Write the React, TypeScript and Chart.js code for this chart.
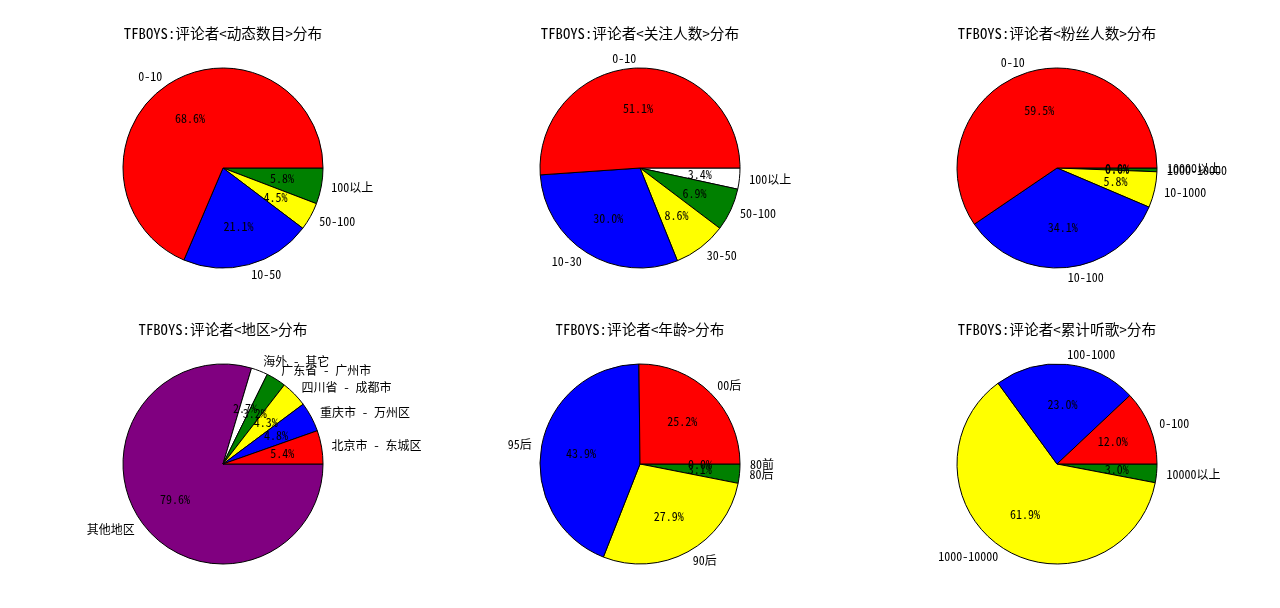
import React, { useEffect, useRef } from 'react';
import { Chart, PieController, ArcElement } from 'chart.js';

Chart.register(PieController, ArcElement);

// slice colours, in data order
const COLORS = ['#ff0000', '#0000ff', '#ffff00', '#008000', '#ffffff', '#800080'];

// shares in percent (matplotlib order: counter-clockwise from east)
const dongtaiLabels = ['0-10', '10-50', '50-100', '100以上'];
const dongtaiPct = [68.6, 21.1, 4.5, 5.8];

const guanzhuLabels = ['0-10', '10-30', '30-50', '50-100', '100以上'];
const guanzhuPct = [51.1, 30.0, 8.6, 6.9, 3.4];

const fensiLabels = ['0-10', '10-100', '10-1000', '1000-10000', '10000以上'];
const fensiPct = [59.5, 34.1, 5.8, 0.6, 0.0];

const diquLabels = ['北京市 - 东城区', '重庆市 - 万州区', '四川省 - 成都市', '广东省 - 广州市', '海外 - 其它', '其他地区'];
const diquPct = [5.4, 4.8, 4.3, 3.2, 2.7, 79.6];

const nianlingLabels = ['00后', '95后', '90后', '80后', '80前'];
const nianlingPct = [25.2, 43.9, 27.9, 3.1, 0.0];

const tinggeLabels = ['0-100', '100-1000', '1000-10000', '10000以上'];
const tinggePct = [12.0, 23.0, 61.9, 3.0];

const W = 418;
const H = 290;
const R = 100;
const FONT = '"Noto Sans Mono CJK SC", "Noto Sans CJK SC", "DejaVu Sans Mono", sans-serif';

interface PieProps {
  title: string;
  labels: string[];
  values: number[];
  cx: number;
  cy: number;
}

const PieCell: React.FC<PieProps> = ({ title, labels, values, cx, cy }) => {
  const canvasRef = useRef<HTMLCanvasElement>(null);

  useEffect(() => {
    const canvas = canvasRef.current;
    if (!canvas) return;
    const n = values.length;
    // chart.js goes clockwise, matplotlib counter-clockwise: feed it reversed
    const revValues = [...values].reverse();
    const revColors = COLORS.slice(0, n).reverse();

    const textPlugin = {
      id: 'mplText',
      afterDatasetsDraw(chart: Chart) {
        const ctx = chart.ctx;
        const meta = chart.getDatasetMeta(0);
        ctx.save();
        ctx.fillStyle = '#000';
        ctx.textBaseline = 'middle';
        for (let i = 0; i < n; i++) {
          const arc: any = meta.data[n - 1 - i];
          const { x, y, startAngle, endAngle, outerRadius } = arc.getProps(
            ['x', 'y', 'startAngle', 'endAngle', 'outerRadius'],
            true
          );
          const mid = (startAngle + endAngle) / 2;
          const c = Math.cos(mid);
          const s = Math.sin(mid);
          ctx.font = `12px ${FONT}`;
          ctx.textAlign = c > 1e-9 ? 'left' : 'right';
          ctx.fillText(labels[i], x + c * outerRadius * 1.1, y + s * outerRadius * 1.1);
          ctx.textAlign = 'center';
          ctx.fillText(values[i].toFixed(1) + '%', x + c * outerRadius * 0.6, y + s * outerRadius * 0.6);
        }
        ctx.font = `14.7px ${FONT}`;
        ctx.textAlign = 'center';
        ctx.fillText(title, chart.width / 2, chart.height / 2 - 135);
        ctx.restore();
      },
    };

    const chart = new Chart(canvas, {
      type: 'pie',
      data: {
        labels: [...labels].reverse(),
        datasets: [
          {
            data: revValues,
            backgroundColor: revColors,
            borderColor: '#000',
            borderWidth: 1,
            radius: R,
            hoverOffset: 0,
            offset: 0,
          },
        ],
      },
      options: {
        responsive: false,
        animation: false,
        rotation: 90,
        events: [],
        layout: { padding: 0 },
        plugins: {
          legend: { display: false },
          tooltip: { enabled: false },
        },
      },
      plugins: [textPlugin],
    });

    let alive = true;
    document.fonts?.ready.then(() => {
      if (alive) chart.update();
    });

    return () => {
      alive = false;
      chart.destroy();
    };
  }, [title, labels, values]);

  return (
    <canvas
      ref={canvasRef}
      width={W}
      height={H}
      style={{ position: 'absolute', left: cx - W / 2, top: cy - H / 2, width: W, height: H }}
    />
  );
};

export default function App() {
  return (
    <div
      style={{
        position: 'fixed',
        left: 0,
        top: 0,
        width: 1280,
        height: 608,
        overflow: 'hidden',
        background: '#fff',
      }}
    >
      <PieCell title="TFBOYS:评论者<动态数目>分布" labels={dongtaiLabels} values={dongtaiPct} cx={223} cy={168} />
      <PieCell title="TFBOYS:评论者<关注人数>分布" labels={guanzhuLabels} values={guanzhuPct} cx={640} cy={168} />
      <PieCell title="TFBOYS:评论者<粉丝人数>分布" labels={fensiLabels} values={fensiPct} cx={1057} cy={168} />
      <PieCell title="TFBOYS:评论者<地区>分布" labels={diquLabels} values={diquPct} cx={223} cy={464} />
      <PieCell title="TFBOYS:评论者<年龄>分布" labels={nianlingLabels} values={nianlingPct} cx={640} cy={464} />
      <PieCell title="TFBOYS:评论者<累计听歌>分布" labels={tinggeLabels} values={tinggePct} cx={1057} cy={464} />
    </div>
  );
}
